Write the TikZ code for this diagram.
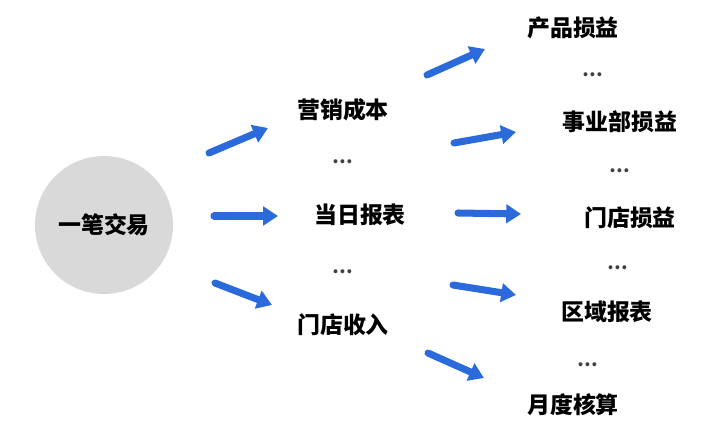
\documentclass[tikz,border=0pt]{standalone}
\usepackage{fontspec}
\newfontfamily\cjk{Noto Sans CJK SC}
\usepackage{xcolor}
\usetikzlibrary{arrows.meta}
\definecolor{flowblue}{RGB}{43,106,218}
\definecolor{discgray}{RGB}{217,217,217}
\tikzset{
  item/.style={font=\cjk\bfseries\fontsize{16.3}{19}\selectfont,inner sep=0pt},
  more/.style={font=\cjk\bfseries\fontsize{13}{15}\selectfont,text=black!75,inner sep=0pt},
  flow/.style={draw=flowblue,line width=5pt,line cap=round,-{Triangle[length=10.5pt,width=13pt]}}
}
\begin{document}
\begin{tikzpicture}[x=0.025cm,y=-0.025cm]
 \useasboundingbox (0,0) rectangle (718,433);
 % --- source ---
 \fill[discgray] (104,225) circle (69);
 \node[item] (deal) at (104,225) {一笔交易};
 % --- middle column ---
 \node[item] (cost)   at (343,110) {营销成本};
 \node[more] (m1)     at (343,162) {…};
 \node[item] (daily)  at (360,215) {当日报表};
 \node[more] (m2)     at (343,272) {…};
 \node[item] (income) at (343,325) {门店收入};
 % --- right column ---
 \node[item] (prod)   at (573,28)  {产品损益};
 \node[more] (r1)     at (593,75)  {…};
 \node[item] (unit)   at (620,122) {事业部损益};
 \node[more] (r2)     at (620,171) {…};
 \node[item] (store)  at (630,218) {门店损益};
 \node[more] (r3)     at (618,268) {…};
 \node[item] (region) at (607,312) {区域报表};
 \node[more] (r4)     at (588,365) {…};
 \node[item] (month)  at (573,405) {月度核算};
 % --- arrow ends ---
 \coordinate (l1s) at (209,153); \coordinate (l1e) at (268,128);
 \coordinate (l2s) at (214,216); \coordinate (l2e) at (278,216);
 \coordinate (l3s) at (215,283); \coordinate (l3e) at (272,305);
 \coordinate (r1s) at (427,75);  \coordinate (r1e) at (485,49);
 \coordinate (r2s) at (454,143); \coordinate (r2e) at (516,132);
 \coordinate (r3s) at (458,213); \coordinate (r3e) at (521,214);
 \coordinate (r4s) at (453,285); \coordinate (r4e) at (516,295);
 \coordinate (r5s) at (428,353); \coordinate (r5e) at (484,378);
 \foreach \a in {l1,l2,l3,r1,r2,r3,r4,r5}
   \draw[flow] (\a s) -- (\a e);
\end{tikzpicture}
\end{document}
